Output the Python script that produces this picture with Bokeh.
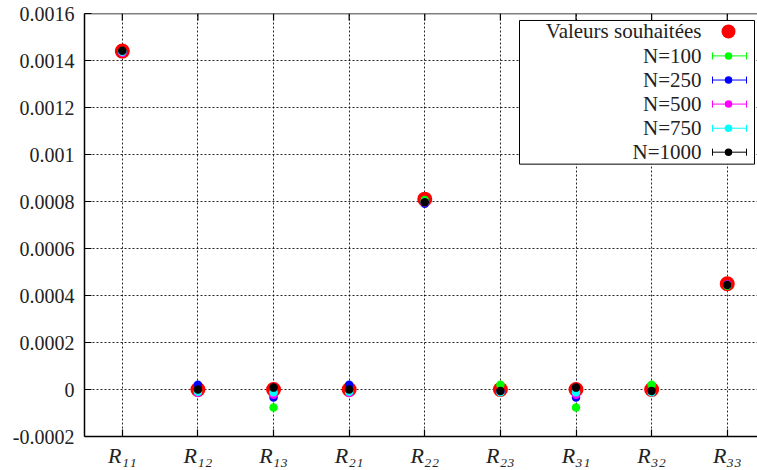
from bokeh.plotting import figure
from bokeh.models import FixedTicker, Range1d, Label
from bokeh.embed import file_html
from bokeh.resources import INLINE

# ---------------- data ----------------
categories = ["R₁₁", "R₁₂", "R₁₃", "R₂₁", "R₂₂", "R₂₃", "R₃₁", "R₃₂", "R₃₃"]
xpos = [1, 2, 3, 4, 5, 6, 7, 8, 9]

desired = [0.00144, 0.0, 0.0, 0.0, 0.00081, 0.0, 0.0, 0.0, 0.00045]

n100 = [0.001438, -0.000005, -0.000077, -0.000005, 0.000806, 0.000020, -0.000077, 0.000020, 0.000442]
n250 = [0.001436, 0.000020, -0.000034, 0.000020, 0.000790, -0.000008, -0.000034, -0.000008, 0.000446]
n500 = [0.001433, -0.000015, -0.000022, -0.000015, 0.000796, -0.000010, -0.000022, -0.000010, 0.000447]
n750 = [0.001437, -0.000010, -0.000012, -0.000010, 0.000798, -0.000012, -0.000012, -0.000012, 0.000445]
n1000 = [0.001441, 0.000000, 0.000008, 0.000000, 0.000797, -0.000006, 0.000008, -0.000006, 0.000445]

series_names = ["N=100", "N=250", "N=500", "N=750", "N=1000"]
series_values = [n100, n250, n500, n750, n1000]
series_colors = ["#00ff00", "#0000ff", "#ff00ff", "#00ffff", "#000000"]
desired_name = "Valeurs souhaitées"

y_ticks = [-0.0002, 0.0, 0.0002, 0.0004, 0.0006, 0.0008, 0.001, 0.0012, 0.0014, 0.0016]
y_labels = ["-0.0002", "0", "0.0002", "0.0004", "0.0006", "0.0008", "0.001", "0.0012", "0.0014", "0.0016"]

FONT = "Liberation Serif, DejaVu Serif, serif"

# ---------------- figure ----------------
FW, FH = 673, 424
p = figure(width=757, height=470, output_backend="svg", toolbar_location=None,
           x_range=Range1d(0.5, 9.4), y_range=Range1d(-0.0002, 0.0016),
           min_border_left=84, min_border_right=0, min_border_top=13, min_border_bottom=33)
p.outline_line_color = None
p.background_fill_color = "white"
p.border_fill_color = "white"

p.extra_x_ranges = {"px": Range1d(0, FW)}
p.extra_y_ranges = {"py": Range1d(FH, 0)}

p.xaxis.ticker = FixedTicker(ticks=xpos)
p.xaxis.major_label_overrides = dict(zip(xpos, categories))
p.xaxis.major_label_text_font = FONT
p.xaxis.major_label_text_font_style = "italic"
p.xaxis.major_label_text_font_size = "22px"
p.xaxis.major_label_text_color = "#222222"
p.xaxis.major_label_standoff = 6
p.xaxis.axis_line_width = 1.5
p.xaxis.major_tick_in = 7
p.xaxis.major_tick_out = 0
p.xaxis.minor_tick_line_color = None
p.xaxis.major_tick_line_width = 1.2

p.yaxis.ticker = FixedTicker(ticks=y_ticks)
p.yaxis.major_label_overrides = dict(zip(y_ticks, y_labels))
p.yaxis.major_label_text_font = FONT
p.yaxis.major_label_text_font_size = "20px"
p.yaxis.major_label_text_color = "#222222"
p.yaxis.major_label_standoff = 10
p.yaxis.axis_line_width = 1.5
p.yaxis.major_tick_in = 7
p.yaxis.major_tick_out = 0
p.yaxis.minor_tick_line_color = None
p.yaxis.major_tick_line_width = 1.2

for g in (p.xgrid, p.ygrid):
    g.grid_line_color = "black"
    g.grid_line_dash = "2 2"
    g.grid_line_width = 1
    g.grid_line_alpha = 0.85
p.xgrid.ticker = FixedTicker(ticks=xpos)
p.ygrid.ticker = FixedTicker(ticks=y_ticks)

# top frame line and inward ticks
p.segment(x0=[0], y0=[0], x1=[FW], y1=[0], x_range_name="px", y_range_name="py",
          line_color="black", line_width=1.5)
p.segment(x0=xpos, y0=[0] * 9, x1=xpos, y1=[7] * 9, y_range_name="py",
          line_color="black", line_width=1.2)

# ---------------- data marks ----------------
p.scatter(xpos, desired, size=15, color="#ff0000", line_color=None)
for vals, col in zip(series_values, series_colors):
    p.scatter(xpos, vals, size=8.5, color=col, line_color=None)

# ---------------- legend (drawn in frame pixels) ----------------
p.quad(left=[435], right=[670], top=[7], bottom=[151], x_range_name="px", y_range_name="py",
       fill_color="white", line_color="black", line_width=1)

row_y = [18, 42.5, 66.7, 90.8, 115, 139]
text_right = 617
mark_x = 644
bar_l, bar_r = 628, 662

p.add_layout(Label(x=text_right, y=row_y[0], x_range_name="px", y_range_name="py",
                   text=desired_name, text_font=FONT, text_font_size="21px",
                   text_color="#222222", text_align="right", text_baseline="middle"))
p.scatter([mark_x], [row_y[0]], x_range_name="px", y_range_name="py",
          size=14, color="#ff0000", line_color=None)

for i, (name, col) in enumerate(zip(series_names, series_colors)):
    yy = row_y[i + 1]
    p.add_layout(Label(x=text_right, y=yy, x_range_name="px", y_range_name="py",
                       text=name, text_font=FONT, text_font_size="21px",
                       text_color="#222222", text_align="right", text_baseline="middle"))
    p.segment(x0=[bar_l], y0=[yy], x1=[bar_r], y1=[yy], x_range_name="px", y_range_name="py",
              line_color=col, line_width=1)
    p.segment(x0=[bar_l, bar_r], y0=[yy - 3.5, yy - 3.5], x1=[bar_l, bar_r], y1=[yy + 3.5, yy + 3.5],
              x_range_name="px", y_range_name="py", line_color=col, line_width=1)
    p.scatter([mark_x], [yy], x_range_name="px", y_range_name="py",
              size=7.5, color=col, line_color=None)

open("out.html", "w").write(file_html(p, INLINE))
